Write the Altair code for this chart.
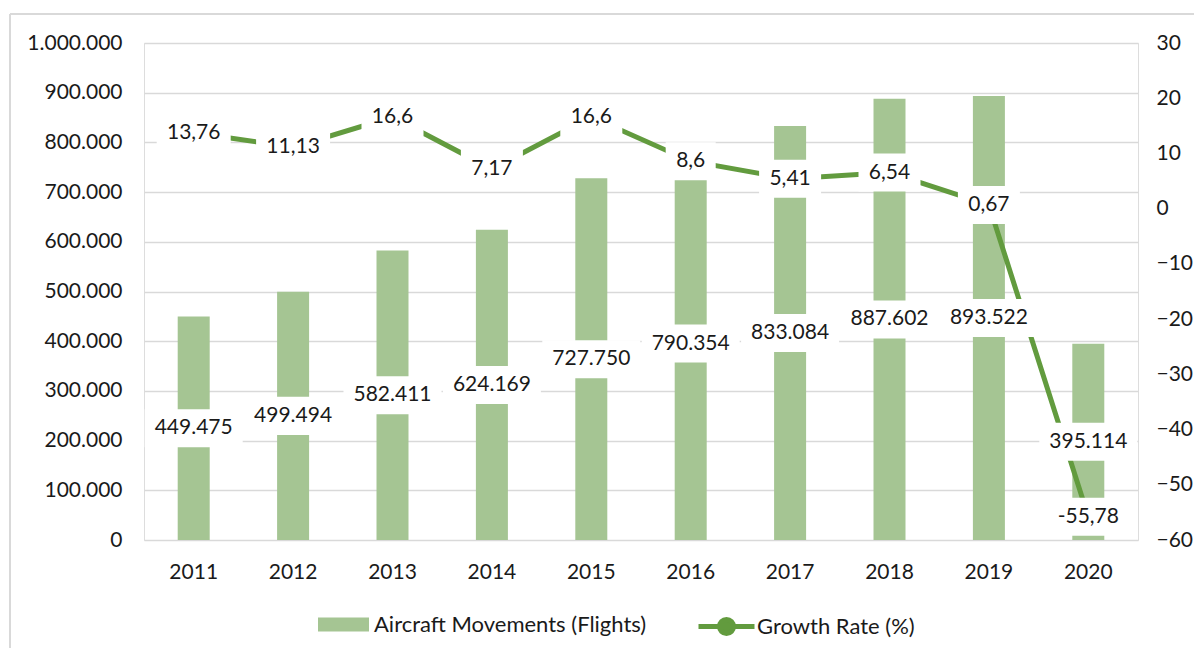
import altair as alt
import pandas as pd

# ---- data ----
years = ["2011", "2012", "2013", "2014", "2015", "2016", "2017", "2018", "2019", "2020"]
flights = [449475, 499494, 582411, 624169, 727750, 790354, 833084, 887602, 893522, 395114]
growth = [13.76, 11.13, 16.6, 7.17, 16.6, 8.6, 5.41, 6.54, 0.67, -55.78]
flight_labels = ["449.475", "499.494", "582.411", "624.169", "727.750",
                 "790.354", "833.084", "887.602", "893.522", "395.114"]
growth_labels = ["13,76", "11,13", "16,6", "7,17", "16,6", "8,6", "5,41", "6,54", "0,67", "-55,78"]
left_ticks = [0, 100000, 200000, 300000, 400000, 500000, 600000, 700000, 800000, 900000, 1000000]
right_ticks = [-60, -50, -40, -30, -20, -10, 0, 10, 20, 30]
series_bar = "Aircraft Movements (Flights)"
series_line = "Growth Rate (%)"

df = pd.DataFrame({"year": years, "flights": flights, "growth": growth,
                   "flabel": flight_labels, "glabel": growth_labels})

FONT = "Lato"
FS = 21
TXT = "#1a1a1a"
BAR = "#A5C593"
LINE = "#629B3E"
GRID = "#D9D9D9"

base = alt.Chart(df)

x = alt.X("year:O", title=None,
          scale=alt.Scale(paddingInner=0, paddingOuter=0),
          axis=alt.Axis(labelAngle=0, ticks=False, domain=False, grid=False,
                        labelPadding=21, labelFont=FONT, labelFontSize=FS, labelColor=TXT))

left_scale = alt.Scale(domain=[0, 1000000], nice=False, zero=True)
right_scale = alt.Scale(domain=[-60, 30], nice=False, zero=False)

y_left = alt.Y("flights:Q", title=None, scale=left_scale,
               axis=alt.Axis(orient="left", values=left_ticks,
                             labelExpr="replace(format(datum.value, ','), regexp(',', 'g'), '.')",
                             grid=True, gridColor=GRID, gridWidth=1.5,
                             domain=False, ticks=False, labelPadding=22,
                             labelFont=FONT, labelFontSize=FS, labelColor=TXT))
y_right = alt.Y("growth:Q", title=None, scale=right_scale,
                axis=alt.Axis(orient="right", values=right_ticks, grid=False,
                              domain=False, ticks=False, labelPadding=18,
                              labelFont=FONT, labelFontSize=FS, labelColor=TXT))

bars = base.mark_bar(size=32).transform_calculate(
    s=f"'{series_bar}'"
).encode(
    x=x, y=y_left,
    fill=alt.Fill("s:N", scale=alt.Scale(domain=[series_bar], range=[BAR]),
                  legend=alt.Legend(title=None, orient="none", legendX=174, legendY=556,
                                    padding=0, symbolType="M-1,-0.275H1V0.275H-1Z",
                                    symbolSize=2601, symbolStrokeWidth=0, labelOffset=5,
                                    labelLimit=500,
                                    labelFont=FONT, labelFontSize=22, labelColor=TXT)),
)

line = base.mark_line(strokeWidth=5).transform_calculate(
    s2=f"'{series_line}'"
).encode(
    x=x, y=y_right,
    stroke=alt.Stroke("s2:N", scale=alt.Scale(domain=[series_line], range=[LINE]),
                      legend=alt.Legend(title=None, orient="none", legendX=552, legendY=553,
                                        padding=0,
                                        symbolType="M-1,0H1M0.25,0A0.25,0.25,0,1,1,-0.25,0A0.25,0.25,0,1,1,0.25,0",
                                        symbolSize=3136, symbolStrokeWidth=5,
                                        symbolFillColor=LINE, labelOffset=0,
                                        labelLimit=500,
                                        labelFont=FONT, labelFontSize=22, labelColor=TXT)),
)

def box_calc(chart, field):
    return chart.transform_calculate(
        w=f"length(datum.{field}) * 12 + 14"
    ).transform_calculate(
        bsize="datum.w * datum.w",
        bpath="'M-1,-' + format(38 / datum.w, '.4f') + 'H1V' + format(38 / datum.w, '.4f') + 'H-1Z'",
    )

bar_box = box_calc(base.transform_calculate(mid="datum.flights / 2"), "flabel").mark_point(
    filled=True, fill="white", opacity=1, strokeWidth=0
).encode(
    x=x,
    y=alt.Y("mid:Q", scale=left_scale, axis=None),
    shape=alt.Shape("bpath:N", scale=None, legend=None),
    size=alt.Size("bsize:Q", scale=None, legend=None),
)

line_box = box_calc(base, "glabel").mark_point(
    filled=True, fill="white", opacity=1, strokeWidth=0
).encode(
    x=x,
    y=alt.Y("growth:Q", scale=right_scale, axis=None),
    shape=alt.Shape("bpath:N", scale=None, legend=None),
    size=alt.Size("bsize:Q", scale=None, legend=None),
)

bar_text = base.transform_calculate(mid="datum.flights / 2").mark_text(
    font=FONT, fontSize=FS, color=TXT, baseline="middle", align="center"
).encode(
    x=x,
    y=alt.Y("mid:Q", scale=left_scale, axis=None),
    text="flabel:N",
)

line_text = base.mark_text(
    font=FONT, fontSize=FS, color=TXT, baseline="middle", align="center"
).encode(
    x=x,
    y=alt.Y("growth:Q", scale=right_scale, axis=None),
    text="glabel:N",
)

frame_left = base.mark_rule(color=GRID, strokeWidth=1.5).encode(
    x=alt.value(-134), y=alt.value(-29), y2=alt.value(640)
)
frame_top = base.mark_rule(color=GRID, strokeWidth=1.5).encode(
    x=alt.value(-134), x2=alt.value(1060), y=alt.value(-29)
)

chart = alt.layer(
    frame_left, frame_top, bars, line, bar_box, line_box, bar_text, line_text
).resolve_scale(
    y="independent"
).properties(
    width=994, height=497,
    autosize=alt.AutoSizeParams(type="none"),
    padding={"left": 136, "top": 35, "right": 56, "bottom": 108},
).configure_view(stroke=None).configure(background="white")

chart.save("out.html", embed_options={"renderer": "svg", "actions": False})
